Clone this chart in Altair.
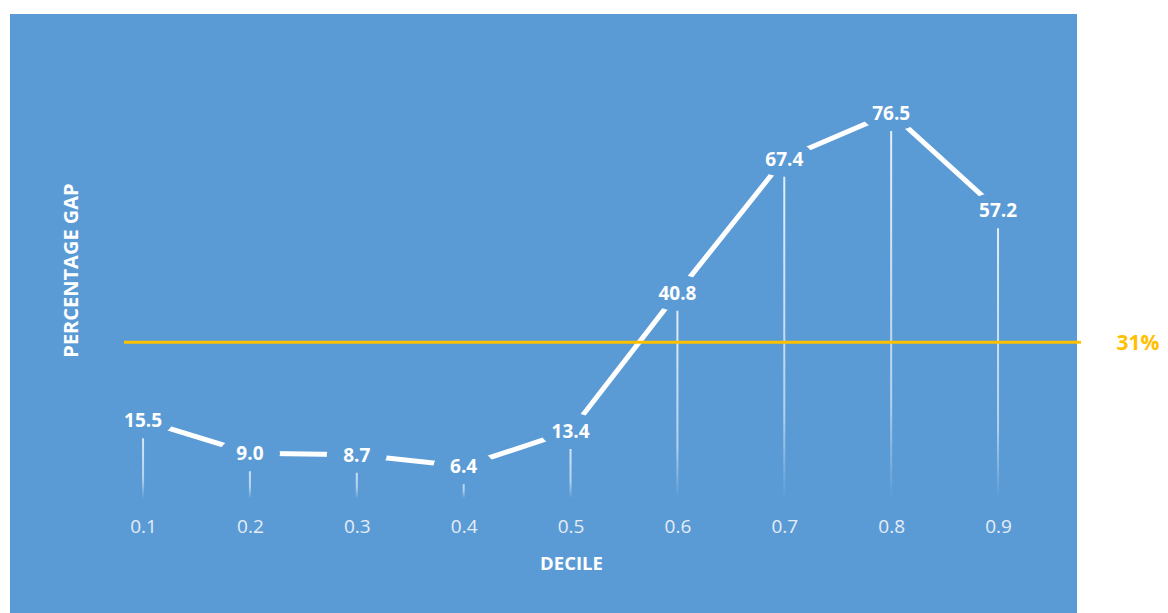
import altair as alt
import pandas as pd

# ---- data ----
deciles = [0.1, 0.2, 0.3, 0.4, 0.5, 0.6, 0.7, 0.8, 0.9]
gap = [15.5, 9.0, 8.7, 6.4, 13.4, 40.8, 67.4, 76.5, 57.2]
average_gap = [31]
average_label = ["31%"]
x_title = "DECILE"
y_title = "PERCENTAGE GAP"

BLUE = "#5B9BD5"
GOLD = "#FFC000"
FONT = "Open Sans"

df = pd.DataFrame({"decile": deciles, "gap": gap})
df["label"] = [f"{v:.1f}" for v in gap]
avg_df = pd.DataFrame({"avg": average_gap, "label": average_label})

xscale = alt.Scale(domain=[-0.0245, 0.9739], nice=False, zero=False, padding=0)
yscale = alt.Scale(domain=[-22.72, 96.13], nice=False, zero=False, padding=0)

x_axis = alt.Axis(
    values=deciles, format=".1f", domain=False, ticks=False, tickSize=0, grid=False,
    offset=-103, labelPadding=16, labelBaseline="middle", labelFont=FONT,
    labelFontSize=19, labelColor="#E4EDF7",
    title=x_title, titleFont=FONT, titleFontSize=18.5, titleFontWeight="bold",
    titleColor="white", titleX=561, titleY=53, titleBaseline="middle", titleAlign="center",
)
y_axis = alt.Axis(
    labels=False, ticks=False, domain=False, grid=False,
    title=y_title, titleFont=FONT, titleFontSize=20, titleFontWeight="bold",
    titleColor="white", titleX=61, titleY=256, titleAngle=270,
    titleBaseline="middle", titleAlign="center",
)

drop_fill = alt.LinearGradient(
    gradient="linear",
    stops=[
        alt.GradientStop(color="rgba(255,255,255,0.85)", offset=0),
        alt.GradientStop(color="rgba(255,255,255,0.55)", offset=0.75),
        alt.GradientStop(color="rgba(255,255,255,0.0)", offset=1),
    ],
    x1=0, x2=0, y1=0, y2=1,
)

base = alt.Chart(df).encode(x=alt.X("decile:Q", scale=xscale, axis=x_axis))

drops = base.mark_bar(size=2, fill=drop_fill).encode(
    y=alt.Y("gap:Q", scale=yscale, axis=y_axis), y2=alt.datum(0)
)
line = base.mark_line(color="white", strokeWidth=5).encode(y=alt.Y("gap:Q", scale=yscale))
ELLIPSE = "M-1,0A1,0.6,0,1,0,1,0A1,0.6,0,1,0,-1,0Z"
boxes = base.mark_point(
    shape=ELLIPSE, size=3600, filled=True, color=BLUE, opacity=1, strokeWidth=0
).encode(y=alt.Y("gap:Q", scale=yscale))
labels = base.mark_text(
    font=FONT, fontSize=19, fontWeight="bold", color="white", baseline="middle", dy=1
).encode(y=alt.Y("gap:Q", scale=yscale), text="label:N")

avg_rule = alt.Chart(avg_df).mark_rule(color=GOLD, strokeWidth=3).encode(
    y=alt.Y("avg:Q", scale=yscale), x=alt.value(114), x2=alt.value(1071)
)
avg_text = alt.Chart(avg_df).mark_text(
    font=FONT, fontSize=21, fontWeight="bold", color=GOLD, align="center", baseline="middle", dy=2
).encode(y=alt.Y("avg:Q", scale=yscale), x=alt.value(1128), text="label:N")

chart = (
    alt.layer(drops, line, boxes, labels, avg_rule, avg_text)
    .properties(
        width=1067, height=599,
        padding={"left": 2, "top": 6, "right": 83, "bottom": 0},
        autosize=alt.AutoSizeParams(type="none"),
        background="white",
    )
    .configure_view(fill=BLUE, strokeWidth=0)
)

chart.save("out.html", embed_options={"renderer": "svg", "actions": False})
